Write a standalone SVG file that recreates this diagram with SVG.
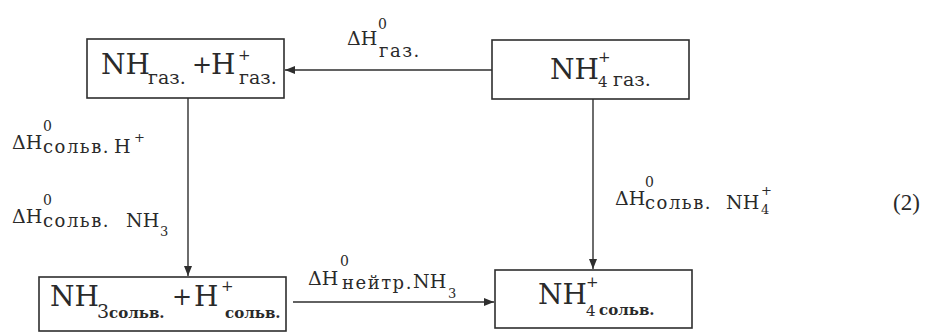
<svg xmlns="http://www.w3.org/2000/svg" width="931" height="332" viewBox="0 0 931 332">
<style>
.box{fill:none;stroke:#2e2e2e;stroke-width:1.6}
.ln{stroke:#2e2e2e;stroke-width:1.4;fill:none}
text{font-family:"DejaVu Serif","Liberation Serif",serif;fill:#2a2a2a}
.big{font-size:28px}
.plus{font-size:24px}
.bsub{font-size:19px}
.bsup{font-size:15px}
.bold{font-size:15px;font-weight:bold}
.lab{font-size:19px}
.lsup{font-size:14px}
.lsub{font-size:18px;letter-spacing:1.5px}
.lsub2{font-size:13px}
.num{font-family:"Liberation Serif",serif;font-size:23px}
</style>
<defs>
<marker id="ah" markerWidth="10" markerHeight="8" refX="10" refY="4" orient="auto" markerUnits="userSpaceOnUse">
<path d="M0,0 L10,4 L0,8 Z" fill="#2e2e2e"/>
</marker>
</defs>
<rect width="931" height="332" fill="#fff"/>
<g id="connectors">
<line class="ln" x1="492" y1="70" x2="285" y2="70" marker-end="url(#ah)"/>
<line class="ln" x1="188" y1="98" x2="188" y2="276" marker-end="url(#ah)"/>
<line class="ln" x1="593" y1="99" x2="593" y2="269" marker-end="url(#ah)"/>
<line class="ln" x1="293" y1="302" x2="494" y2="302" marker-end="url(#ah)"/>
</g>
<g id="node-nh-h-gas">
<rect class="box" x="87" y="39" width="197" height="59"/>
<text class="big" x="101" y="74">NH</text>
<text class="bsub" x="148" y="84">газ.</text>
<text class="plus" x="192" y="73">+</text>
<text class="big" x="211" y="74">H</text>
<text class="bsup" x="238" y="60">+</text>
<text class="bsub" x="239" y="84">газ.</text>
</g>
<g id="node-nh4-gas">
<rect class="box" x="492" y="40" width="197" height="59"/>
<text class="big" x="550" y="79">NH</text>
<text class="bsup" x="598" y="62">+</text>
<text class="bsup" x="598" y="87">4</text>
<text class="bsub" x="613" y="86">газ.</text>
</g>
<g id="node-nh3-h-solv">
<rect class="box" x="39" y="277" width="247" height="54"/>
<text class="big" x="50" y="306">NH</text>
<text class="bsub" x="97" y="318">3</text>
<text class="bold" x="109" y="318">сольв.</text>
<text class="plus" x="172" y="305">+</text>
<text class="big" x="194" y="306">H</text>
<text class="bsup" x="221" y="291">+</text>
<text class="bold" x="225" y="318">сольв.</text>
</g>
<g id="node-nh4-solv">
<rect class="box" x="495" y="270" width="197" height="58"/>
<text class="big" x="538" y="304">NH</text>
<text class="bsup" x="586" y="287">+</text>
<text class="bsup" x="586" y="316">4</text>
<text class="bold" x="599" y="315">сольв.</text>
</g>
<g id="labels">
<text class="lab" x="347" y="45">ΔH</text>
<text class="lsup" x="378" y="29">0</text>
<text class="lsub" x="379" y="57">газ.</text>

<text class="lab" x="12" y="149">ΔH</text>
<text class="lsup" x="43" y="131">0</text>
<text class="lsub" x="43" y="153">сольв.</text>
<text class="lab" x="114" y="153">H</text>
<text class="lsub2" x="134" y="142">+</text>

<text class="lab" x="12" y="223">ΔH</text>
<text class="lsup" x="43" y="205">0</text>
<text class="lsub" x="43" y="227">сольв.</text>
<text class="lab" x="126" y="227">NH</text>
<text class="lsub2" x="160" y="236">3</text>

<text class="lab" x="615" y="205">ΔH</text>
<text class="lsup" x="645" y="187">0</text>
<text class="lsub" x="645" y="209">сольв.</text>
<text class="lab" x="726" y="209">NH</text>
<text class="lsub2" x="761" y="195">+</text>
<text class="lsub2" x="761" y="214">4</text>

<text class="lab" x="308" y="285">ΔH</text>
<text class="lsup" x="340" y="266">0</text>
<text class="lsub" x="342" y="289">нейтр.</text>
<text class="lab" x="413" y="288">NH</text>
<text class="lsub2" x="448" y="298">3</text>

<text class="num" x="893" y="210">(2)</text>
</g>
</svg>
